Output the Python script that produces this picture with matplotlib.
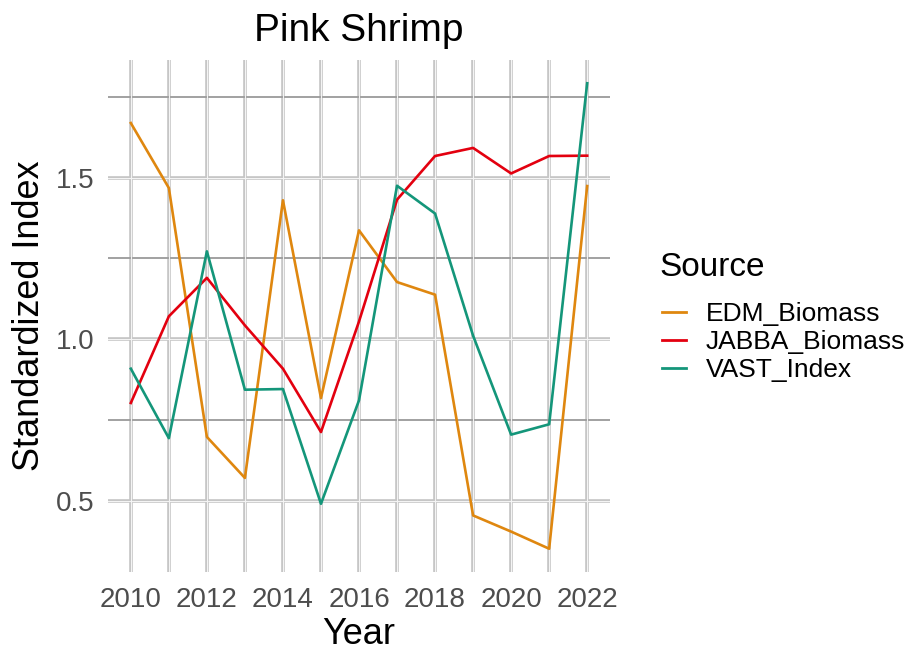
import matplotlib
matplotlib.use("Agg")
import matplotlib.pyplot as plt

plt.rcParams['font.family'] = ['Liberation Sans', 'DejaVu Sans']

years = list(range(2010, 2023))
edm_biomass = [1.669, 1.468, 0.698, 0.571, 1.430, 0.818, 1.337, 1.177, 1.138, 0.455, 0.405, 0.352, 1.474]
jabba_biomass = [0.803, 1.071, 1.190, 1.043, 0.909, 0.713, 1.055, 1.432, 1.567, 1.592, 1.513, 1.567, 1.568]
vast_index = [0.909, 0.694, 1.272, 0.844, 0.846, 0.491, 0.811, 1.475, 1.389, 1.011, 0.705, 0.737, 1.792]

series = ["EDM_Biomass", "JABBA_Biomass", "VAST_Index"]
colors = ["#DF870F", "#E3000F", "#14967A"]

fig = plt.figure(figsize=(9.06, 6.55), dpi=100)
ax = fig.add_axes([108/906, 1-572/655, (610-108)/906, (572-60)/655])

# ggplot-ish grid
for yr in years:
    ax.axvline(yr, color="#C4C4C4", lw=2.6, zorder=0)
    ax.axvline(yr, color="#F4F4F4", lw=0.8, zorder=0.1)
for v in [0.5, 1.0, 1.5]:
    ax.axhline(v, color="#C4C4C4", lw=2.6, zorder=0)
    ax.axhline(v, color="#F4F4F4", lw=0.8, zorder=0.1)
for v in [0.75, 1.25, 1.75]:
    ax.axhline(v, color="#9A9A9A", lw=1.3, zorder=0)

for name, vals, c in zip(series, [edm_biomass, jabba_biomass, vast_index], colors):
    ax.plot(years, vals, color=c, lw=1.9, label=name, zorder=2)

lo = min(min(edm_biomass), min(jabba_biomass), min(vast_index))
hi = max(max(edm_biomass), max(jabba_biomass), max(vast_index))
pad = (hi - lo) * 0.05
ax.set_ylim(lo - pad, hi + pad)
ax.set_xlim(2010 - 0.6, 2022 + 0.6)

ax.set_xticks(range(2010, 2023, 2))
ax.set_yticks([0.5, 1.0, 1.5])
ax.set_yticklabels(["0.5", "1.0", "1.5"])
ax.tick_params(axis="x", length=0, labelsize=20, labelcolor="#4D4D4D", pad=11)
ax.tick_params(axis="y", length=0, labelsize=20, labelcolor="#4D4D4D", pad=10)
for s in ax.spines.values():
    s.set_visible(False)

ax.set_xlabel("Year", fontsize=26, labelpad=3)
ax.set_ylabel("Standardized Index", fontsize=26, labelpad=6)
ax.set_title("Pink Shrimp", fontsize=28, pad=14)

fig.text(659/906, 1-268/655, "Source", fontsize=24, ha="left", va="center")
leg = fig.legend(loc="upper left", bbox_to_anchor=(662/906, 1-302/655), frameon=False,
                 fontsize=19, handlelength=0.9, borderpad=0, borderaxespad=0,
                 handletextpad=0.75, labelspacing=0.16)
for h in leg.get_lines():
    h.set_linewidth(2.0)

fig.savefig("out.png", dpi=100)
